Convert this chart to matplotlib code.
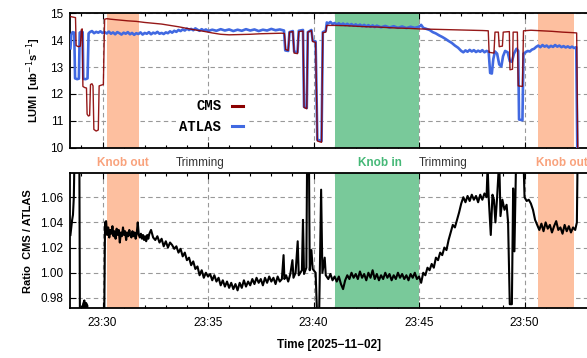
import matplotlib
matplotlib.use("Agg")
import matplotlib.pyplot as plt
from matplotlib.ticker import MultipleLocator

plt.rcParams["font.family"] = ["Liberation Sans", "DejaVu Sans"]

# time axis in minutes after 23:00 (2025-11-02)
tick_pos = [30, 35, 40, 45, 50]
tick_labels = ["23:30", "23:35", "23:40", "23:45", "23:50"]

# shaded periods (start, end) in minutes
knob_out_periods = [(30.21, 31.72), (50.65, 52.33)]
knob_in_periods = [(41.0, 45.0)]

# phase labels: (time, text, kind)
phase_labels = [(30.95, "Knob out", "out"), (34.62, "Trimming", "trim"),
                (43.15, "Knob in", "in"), (46.14, "Trimming", "trim"),
                (51.75, "Knob out", "out")]

# CMS luminosity
cms_t = [28.48, 28.60, 28.72, 28.75, 28.85, 28.95, 29.00, 29.04, 29.07, 29.15,
         29.24, 29.27, 29.33, 29.39, 29.43, 29.50, 29.55, 29.59, 29.70, 29.80,
         29.84, 29.95, 30.04, 30.10, 30.20, 30.40, 30.80, 31.20, 31.60, 32.00,
         32.40, 32.80, 33.20, 33.60, 34.00, 34.40, 34.80, 35.20, 35.60, 36.00,
         36.50, 37.00, 37.50, 38.00, 38.50, 38.62, 38.68, 38.80, 38.86, 39.02,
         39.08, 39.24, 39.30, 39.50, 39.55, 39.68, 39.73, 39.90, 39.96, 40.10,
         40.18, 40.38, 40.44, 40.58, 40.63, 41.00, 41.50, 42.00, 42.50, 43.00,
         43.50, 44.00, 44.50, 45.00, 45.50, 46.00, 46.50, 47.00, 47.50, 48.00,
         48.28, 48.32, 48.55, 48.60, 48.76, 48.80, 48.95, 48.99, 49.28, 49.31,
         49.43, 49.46, 49.66, 49.70, 49.90, 49.95, 50.30, 50.80, 51.30, 51.80,
         52.30, 52.47, 52.52, 52.56]
cms_v = [14.88, 14.86, 14.84, 13.80, 13.76, 13.78, 14.40, 14.42, 12.28, 12.24,
         12.22, 11.25, 11.18, 11.20, 12.35, 12.38, 12.30, 10.68, 10.62, 10.66,
         12.30, 12.33, 12.35, 14.78, 14.80, 14.78, 14.75, 14.72, 14.70, 14.66,
         14.63, 14.60, 14.55, 14.50, 14.44, 14.38, 14.33, 14.27, 14.22, 14.20,
         14.21, 14.22, 14.24, 14.25, 14.26, 14.25, 13.65, 13.62, 14.30, 14.32,
         13.52, 13.50, 14.32, 14.34, 11.50, 11.45, 14.30, 14.36, 13.95, 13.92,
         10.25, 10.20, 14.28, 14.30, 14.55, 14.55, 14.54, 14.52, 14.50, 14.49,
         14.47, 14.45, 14.44, 14.42, 14.41, 14.40, 14.39, 14.38, 14.37, 14.36,
         14.35, 13.55, 13.52, 14.30, 14.30, 13.76, 13.78, 14.30, 14.32, 12.90,
         12.92, 14.30, 14.30, 12.30, 12.28, 14.35, 14.37, 14.35, 14.33, 14.30,
         14.28, 14.27, 10.00, 9.90]

# ATLAS luminosity
atlas_t = [28.48, 28.52, 28.58, 28.66, 28.70, 28.80, 28.88, 28.92, 29.00, 29.06,
           29.09, 29.20, 29.29, 29.34, 29.40, 29.50, 29.60, 29.70, 29.80, 29.90,
           30.00, 30.10, 30.20, 30.30, 30.40, 30.50, 30.60, 30.70, 30.80, 30.90,
           31.00, 31.10, 31.20, 31.30, 31.40, 31.50, 31.60, 31.70, 31.80, 31.90,
           32.00, 32.10, 32.20, 32.30, 32.40, 32.50, 32.60, 32.70, 32.80, 32.90,
           33.00, 33.10, 33.20, 33.30, 33.40, 33.50, 33.60, 33.70, 33.80, 33.90,
           34.00, 34.10, 34.20, 34.30, 34.40, 34.50, 34.60, 34.70, 34.80, 34.90,
           35.00, 35.20, 35.40, 35.60, 35.80, 36.00, 36.20, 36.40, 36.60, 36.80,
           37.00, 37.20, 37.40, 37.60, 37.80, 38.00, 38.20, 38.40, 38.60, 38.66,
           38.80, 38.86, 39.02, 39.08, 39.24, 39.30, 39.50, 39.55, 39.68, 39.73,
           39.90, 39.96, 40.10, 40.18, 40.38, 40.44, 40.58, 40.63, 40.70, 40.80,
           40.90, 41.00, 41.10, 41.20, 41.30, 41.40, 41.50, 41.60, 41.70, 41.80,
           41.90, 42.00, 42.10, 42.20, 42.30, 42.40, 42.50, 42.60, 42.70, 42.80,
           42.90, 43.00, 43.20, 43.40, 43.60, 43.80, 44.00, 44.20, 44.40, 44.60,
           44.80, 45.00, 45.10, 45.20, 45.35, 45.50, 45.65, 45.80, 45.95, 46.10,
           46.25, 46.40, 46.55, 46.70, 46.85, 47.00, 47.10, 47.20, 47.30, 47.40,
           47.50, 47.60, 47.70, 47.80, 47.90, 48.00, 48.10, 48.20, 48.30, 48.37,
           48.45, 48.52, 48.60, 48.70, 48.80, 48.90, 48.98, 49.08, 49.20, 49.30,
           49.40, 49.50, 49.62, 49.70, 49.74, 49.90, 49.95, 50.05, 50.15, 50.25,
           50.35, 50.45, 50.55, 50.65, 50.75, 50.85, 50.95, 51.05, 51.15, 51.25,
           51.35, 51.45, 51.55, 51.65, 51.75, 51.85, 51.95, 52.05, 52.15, 52.25,
           52.35, 52.45, 52.50, 52.55]
atlas_v = [13.70, 14.20, 14.30, 14.28, 12.58, 12.55, 12.57, 14.28, 14.32, 14.30,
           12.56, 12.55, 12.58, 14.25, 14.30, 14.34, 14.26, 14.31, 14.28, 14.33,
           14.27, 14.30, 14.25, 14.32, 14.24, 14.29, 14.22, 14.30, 14.26, 14.21,
           14.28, 14.24, 14.30, 14.22, 14.27, 14.20, 14.26, 14.23, 14.29, 14.21,
           14.27, 14.24, 14.30, 14.22, 14.28, 14.25, 14.31, 14.24, 14.27, 14.23,
           14.29, 14.26, 14.33, 14.28, 14.35, 14.31, 14.38, 14.34, 14.40, 14.36,
           14.43, 14.38, 14.42, 14.37, 14.44, 14.39, 14.35, 14.41, 14.36, 14.40,
           14.34, 14.39, 14.35, 14.41, 14.36, 14.40, 14.34, 14.39, 14.35, 14.41,
           14.36, 14.40, 14.34, 14.39, 14.36, 14.42, 14.37, 14.40, 14.36, 13.62,
           13.60, 14.30, 14.34, 13.58, 13.55, 14.35, 14.38, 11.52, 11.48, 14.30,
           14.38, 13.98, 13.95, 10.30, 10.25, 14.30, 14.35, 14.66, 14.62, 14.68,
           14.60, 14.64, 14.58, 14.63, 14.57, 14.62, 14.56, 14.61, 14.55, 14.60,
           14.54, 14.59, 14.53, 14.58, 14.52, 14.57, 14.51, 14.56, 14.50, 14.55,
           14.49, 14.54, 14.48, 14.53, 14.47, 14.52, 14.46, 14.51, 14.45, 14.50,
           14.46, 14.50, 14.57, 14.46, 14.42, 14.38, 14.30, 14.25, 14.18, 14.12,
           14.05, 13.97, 13.90, 13.80, 13.72, 13.60, 13.55, 13.62, 13.57, 13.64,
           13.58, 13.63, 13.56, 13.61, 13.57, 13.63, 13.55, 13.60, 13.57, 12.78,
           12.76, 13.30, 13.58, 13.50, 13.10, 13.02, 13.40, 13.60, 13.55, 13.22,
           13.20, 13.50, 13.68, 13.60, 11.05, 11.02, 13.50, 13.55, 13.60, 13.58,
           13.65, 13.68, 13.75, 13.80, 13.74, 13.82, 13.76, 13.80, 13.73, 13.79,
           13.75, 13.82, 13.76, 13.80, 13.74, 13.78, 13.73, 13.77, 13.72, 13.76,
           13.71, 13.74, 10.00, 9.90]

# ratio CMS / ATLAS
ratio_t = [28.48, 28.52, 28.56, 28.60, 28.64, 28.67, 28.74, 28.90, 28.93, 29.05,
           29.08, 29.14, 29.18, 29.22, 29.28, 29.31, 30.08, 30.12, 30.17, 30.22,
           30.27, 30.32, 30.37, 30.42, 30.47, 30.52, 30.57, 30.62, 30.67, 30.72,
           30.77, 30.82, 30.87, 30.92, 30.97, 31.02, 31.07, 31.12, 31.17, 31.22,
           31.27, 31.32, 31.37, 31.42, 31.47, 31.52, 31.57, 31.62, 31.67, 31.72,
           31.77, 31.82, 31.87, 31.92, 31.97, 32.02, 32.07, 32.12, 32.17, 32.22,
           32.30, 32.40, 32.50, 32.60, 32.70, 32.80, 32.90, 33.00, 33.10, 33.20,
           33.30, 33.40, 33.50, 33.60, 33.70, 33.80, 33.90, 34.00, 34.10, 34.20,
           34.30, 34.40, 34.50, 34.60, 34.70, 34.80, 34.90, 35.00, 35.10, 35.20,
           35.30, 35.40, 35.50, 35.60, 35.70, 35.80, 35.90, 36.00, 36.10, 36.20,
           36.30, 36.40, 36.50, 36.60, 36.70, 36.80, 36.90, 37.00, 37.10, 37.20,
           37.30, 37.40, 37.50, 37.60, 37.70, 37.80, 37.90, 38.00, 38.10, 38.20,
           38.30, 38.40, 38.50, 38.58, 38.62, 38.70, 38.80, 38.90, 39.00, 39.05,
           39.15, 39.25, 39.30, 39.45, 39.50, 39.55, 39.66, 39.70, 39.78, 39.82,
           39.90, 39.96, 40.10, 40.18, 40.26, 40.30, 40.36, 40.42, 40.53, 40.58,
           40.70, 40.80, 40.90, 41.00, 41.10, 41.20, 41.30, 41.40, 41.50, 41.60,
           41.70, 41.80, 41.90, 42.00, 42.10, 42.20, 42.30, 42.40, 42.50, 42.60,
           42.70, 42.80, 42.90, 43.00, 43.10, 43.20, 43.30, 43.40, 43.50, 43.60,
           43.70, 43.80, 43.90, 44.00, 44.10, 44.20, 44.30, 44.40, 44.50, 44.60,
           44.70, 44.80, 44.90, 45.00, 45.10, 45.20, 45.30, 45.40, 45.50, 45.60,
           45.70, 45.80, 45.90, 46.00, 46.10, 46.20, 46.30, 46.40, 46.50, 46.60,
           46.70, 46.80, 46.90, 47.00, 47.10, 47.20, 47.30, 47.40, 47.50, 47.60,
           47.70, 47.80, 47.90, 48.00, 48.10, 48.20, 48.25, 48.30, 48.40, 48.48,
           48.55, 48.62, 48.70, 48.80, 48.86, 48.95, 49.05, 49.15, 49.22, 49.30,
           49.40, 49.46, 49.52, 49.60, 49.72, 49.95, 50.00, 50.10, 50.20, 50.30,
           50.40, 50.50, 50.60, 50.70, 50.80, 50.90, 51.00, 51.10, 51.20, 51.30,
           51.40, 51.50, 51.60, 51.70, 51.80, 51.90, 52.00, 52.10, 52.20, 52.30,
           52.40, 52.48, 52.52]
ratio_v = [1.030, 1.036, 1.042, 1.046, 1.060, 1.090, 1.100, 1.100, 0.960, 0.960,
           0.975, 0.978, 0.970, 0.976, 0.974, 0.960, 0.960, 1.040, 1.041, 1.030,
           1.036, 1.028, 1.034, 1.031, 1.037, 1.029, 1.033, 1.027, 1.035, 1.030,
           1.034, 1.024, 1.032, 1.029, 1.036, 1.030, 1.033, 1.026, 1.032, 1.029,
           1.034, 1.030, 1.028, 1.033, 1.029, 1.032, 1.027, 1.031, 1.040, 1.030,
           1.028, 1.031, 1.027, 1.030, 1.026, 1.029, 1.025, 1.030, 1.027, 1.031,
           1.034, 1.028, 1.026, 1.029, 1.024, 1.027, 1.021, 1.025, 1.020, 1.024,
           1.022, 1.019, 1.021, 1.016, 1.019, 1.013, 1.016, 1.010, 1.012, 1.006,
           1.009, 1.003, 1.005, 0.998, 1.002, 0.996, 1.000, 0.997, 0.999, 0.994,
           0.998, 0.993, 0.996, 0.990, 0.994, 0.989, 0.993, 0.988, 0.992, 0.987,
           0.991, 0.986, 0.992, 0.988, 0.994, 0.989, 0.993, 0.990, 0.995, 0.991,
           0.996, 0.992, 0.995, 0.990, 0.996, 0.992, 0.997, 0.993, 0.996, 0.991,
           0.997, 0.993, 0.995, 1.014, 0.995, 0.998, 0.993, 0.999, 1.010, 0.996,
           1.000, 1.025, 0.998, 1.002, 1.042, 0.999, 1.004, 1.100, 1.100, 1.002,
           1.018, 1.003, 1.000, 0.960, 0.960, 1.001, 1.066, 1.000, 1.012, 0.998,
           0.995, 0.999, 0.994, 0.997, 0.993, 0.997, 0.991, 0.987, 0.994, 0.998,
           0.995, 1.000, 0.996, 0.999, 0.995, 1.001, 0.996, 0.999, 0.994, 1.000,
           0.996, 1.002, 0.995, 0.999, 0.994, 0.998, 0.995, 1.000, 0.996, 0.999,
           0.994, 0.998, 0.995, 1.000, 0.996, 0.999, 0.995, 0.998, 0.994, 0.999,
           0.996, 1.000, 0.995, 0.997, 0.992, 1.000, 0.998, 1.004, 1.002, 1.007,
           1.004, 1.012, 1.010, 1.016, 1.014, 1.020, 1.018, 1.026, 1.032, 1.038,
           1.036, 1.042, 1.048, 1.055, 1.060, 1.056, 1.061, 1.057, 1.062, 1.058,
           1.061, 1.056, 1.062, 1.058, 1.063, 1.060, 1.085, 1.060, 1.030, 1.062,
           1.058, 1.040, 1.060, 1.090, 1.045, 1.058, 1.050, 1.054, 1.040, 0.975,
           0.975, 1.067, 1.017, 1.090, 1.090, 1.090, 1.060, 1.057, 1.058, 1.055,
           1.050, 1.042, 1.038, 1.034, 1.039, 1.033, 1.040, 1.035, 1.038, 1.032,
           1.037, 1.041, 1.034, 1.036, 1.031, 1.038, 1.033, 1.037, 1.032, 1.036,
           1.034, 1.040, 1.100]

orange = "#fdbf9f"
green = "#79c99a"
xmin, xmax = 28.48, 52.96

fig = plt.figure(figsize=(5.87, 3.58), dpi=100)
ax1 = fig.add_axes([0.120, 0.5874, 0.88, 0.3754])
ax2 = fig.add_axes([0.120, 0.1397, 0.88, 0.3762])

for ax in (ax1, ax2):
    for a, b in knob_out_periods:
        ax.axvspan(a, b, color=orange, lw=0, zorder=1)
    for a, b in knob_in_periods:
        ax.axvspan(a, b, color=green, lw=0, zorder=1)
    ax.set_xlim(xmin, xmax)
    ax.set_xticks(tick_pos)
    ax.xaxis.set_minor_locator(MultipleLocator(1))
    ax.grid(True, which="major", color="#999999", ls=(0, (4, 3)), lw=0.8, zorder=0)
    ax.set_axisbelow(True)
    ax.tick_params(which="both", direction="in", top=True, right=False,
                   labelsize=8.5, width=0.8)
    ax.tick_params(which="major", length=4)
    ax.tick_params(which="minor", length=2.5)
    ax.tick_params(axis="x", pad=6.5)
    ax.tick_params(axis="y", pad=5)
    ax.spines["right"].set_visible(False)
    for s in ("left", "top", "bottom"):
        ax.spines[s].set_linewidth(1.3)

ax1.plot(atlas_t, atlas_v, color="#4169e1", lw=1.9, zorder=3, label="ATLAS")
ax1.plot(cms_t, cms_v, color="#8b0000", lw=1.0, alpha=0.9, zorder=4, label="CMS")
ax1.set_ylim(10, 15)
ax1.set_yticks([10, 11, 12, 13, 14, 15])
ax1.set_xticklabels([])
ax1.set_ylabel("LUMI  [ub$^{-1}$s$^{-1}$]", fontsize=8, fontweight="bold", labelpad=5)

h, l = ax1.get_legend_handles_labels()
leg = ax1.legend(h[::-1], l[::-1], loc="center right", bbox_to_anchor=(0.355, 0.232),
                 markerfirst=False, handlelength=0.85, handletextpad=0.75,
                 labelspacing=0.45, borderpad=0.25, frameon=True, fancybox=False,
                 framealpha=1, facecolor="white", edgecolor="none",
                 prop={"family": "Liberation Mono", "weight": "bold", "size": 10})
leg.set_zorder(5)
for line in leg.get_lines():
    line.set_linewidth(2.2)
    line.set_alpha(1)

ax2.plot(ratio_t, ratio_v, color="black", lw=1.5, zorder=3)
ax2.set_ylim(0.972, 1.079)
ax2.set_yticks([0.98, 1.00, 1.02, 1.04, 1.06])
ax2.set_yticklabels(["0.98", "1.00", "1.02", "1.04", "1.06"])
ax2.set_xticklabels(tick_labels)
ax2.set_ylabel("Ratio  CMS / ATLAS", fontsize=8, fontweight="bold", labelpad=5)
ax2.set_xlabel("Time [2025\u221211\u221202]", fontsize=8.5, fontweight="bold", labelpad=7)

colors = {"out": "#f9a27c", "in": "#45b877", "trim": "#333333"}
for t, txt, kind in phase_labels:
    xf = 0.120 + 0.88 * (t - xmin) / (xmax - xmin)
    fig.text(xf, 0.545, txt, ha="center", va="center", fontsize=8.5,
             color=colors[kind], fontweight="normal" if kind == "trim" else "bold")

fig.savefig("out.png", dpi=100)
